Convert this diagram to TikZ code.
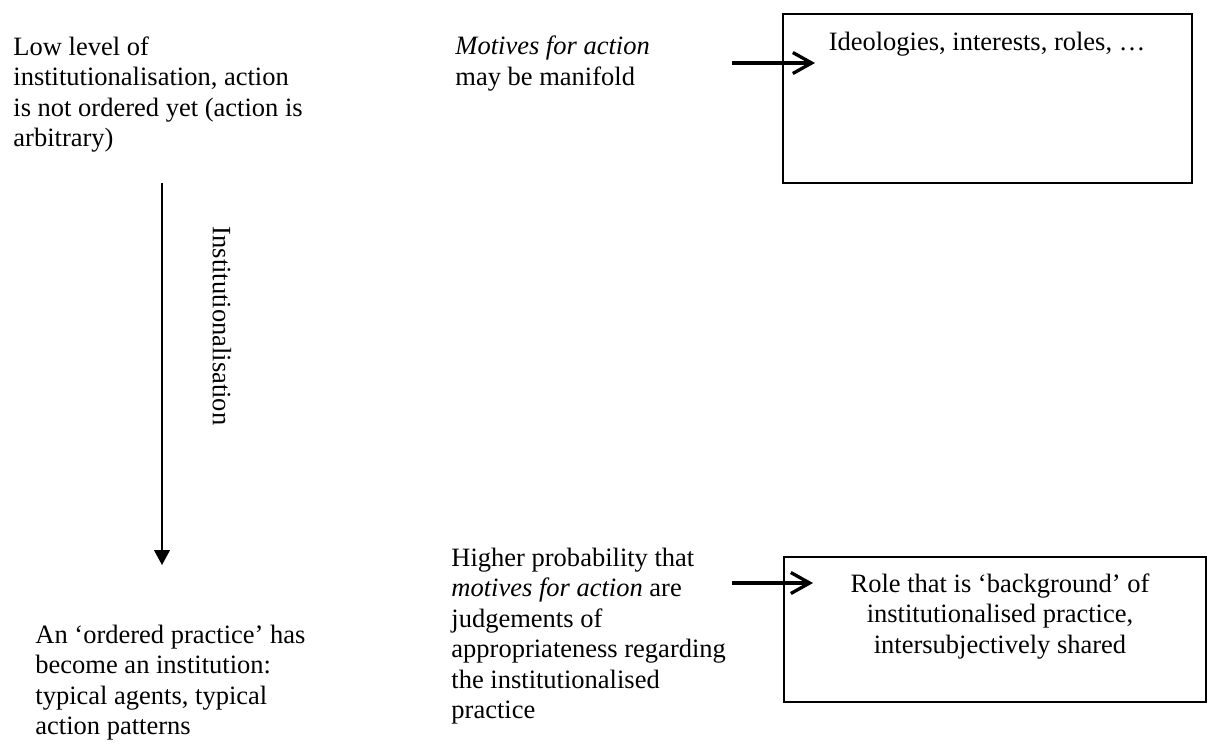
\documentclass[tikz,border=0pt]{standalone}
\usepackage{fontspec}
\setmainfont{Liberation Serif}
\usetikzlibrary{arrows.meta,fit}
\begin{document}
\begin{tikzpicture}[x=0.4528pt,y=-0.4528pt,
  txt/.style={font=\fontsize{12}{13.8}\selectfont, inner sep=0pt, align=left, anchor=north west},
  ctxt/.style={font=\fontsize{12}{13.8}\selectfont, inner sep=0pt, align=center, anchor=north},
  frame/.style={draw, line width=0.6pt, inner sep=0pt},
  boldarrow/.style={line width=1.5pt, -{Straight Barb[length=8.5pt,width=9.5pt]}},
  flowarrow/.style={line width=0.6pt, -{Triangle[length=6.8pt,width=7.2pt]}}
]
\useasboundingbox (0,0) rectangle (1208,743);

% texts
\node[txt] (lt) at (13,33.7) {\strut Low level of\\institutionalisation, action\\is not ordered yet (action is\\arbitrary)};
\node[txt] (mt) at (455,33.2) {\strut\textit{Motives for action}\\may be manifold};
\node[txt] (lb) at (35,621.7) {\strut An ‘ordered practice’ has\\become an institution:\\typical agents, typical\\action patterns};
\node[txt] (mb) at (451,544.7) {\strut Higher probability that\\\textit{motives for action} are\\judgements of\\appropriateness regarding\\the institutionalised\\practice};

% boxes
\node[frame, fit={(783,14) (1192,183)}] (box1) {};
\node[ctxt] (box1t) at (987,28.7) {\strut Ideologies, interests, roles, …};
\node[frame, fit={(784,557) (1206,702)}] (box2) {};
\node[ctxt] (box2t) at (1000,570.7) {\strut Role that is ‘background’ of\\institutionalised practice,\\intersubjectively shared};

% arrows
\coordinate (a1s) at (732,63);
\coordinate (a1e) at (815,63);
\draw[boldarrow] (a1s) -- (a1e);
\coordinate (a2s) at (732,583);
\coordinate (a2e) at (813,583);
\draw[boldarrow] (a2s) -- (a2e);

\coordinate (vs) at (162,183);
\coordinate (ve) at (162,565);
\draw[flowarrow] (vs) -- (ve);
\node[font=\fontsize{12}{13.8}\selectfont, inner sep=0pt, rotate=-90] (lab) at (222,326) {Institutionalisation};
\end{tikzpicture}
\end{document}
